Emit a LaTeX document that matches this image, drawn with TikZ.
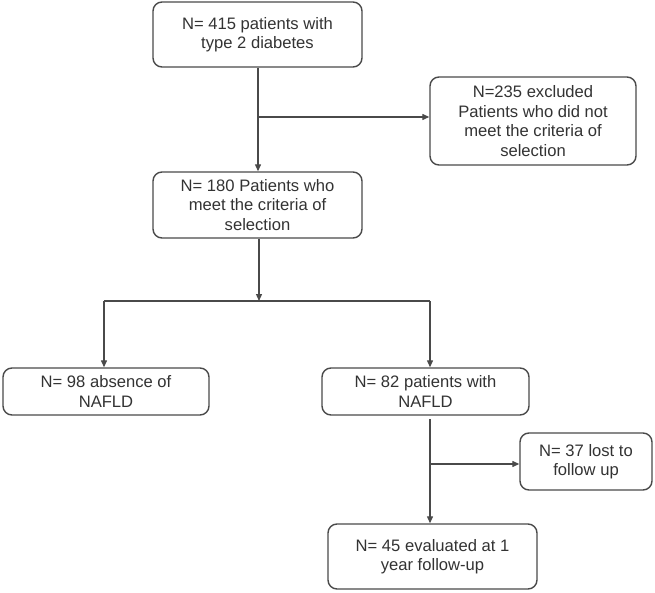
\documentclass[tikz,border=0pt]{standalone}
\usepackage{fontspec}
\setmainfont{Liberation Sans}
\usetikzlibrary{arrows.meta}
\definecolor{boxline}{HTML}{4A4A4A}
\definecolor{txt}{HTML}{333333}
\begin{document}
\begin{tikzpicture}[x=1pt,y=-1pt,
  box/.style={draw=boxline,line width=1.4pt,rounded corners=9pt,fill=white,
    inner sep=0pt,align=center,text=txt,
    font=\fontsize{16.6}{19.5}\selectfont},
  arr/.style={draw=boxline,line width=1.3pt,-{Triangle[length=7pt,width=6pt]}},
  ln/.style={draw=boxline,line width=1.3pt}]
\useasboundingbox (0,0) rectangle (655,593);
\fill[white] (0,0) rectangle (655,593);

\node[box,minimum width=209pt,minimum height=65pt] (b1) at (257.5,34.5)
  {N= 415 patients with\\type 2 diabetes};
\node[box,minimum width=206pt,minimum height=88pt] (b2) at (533,121)
  {N=235 excluded\\Patients who did not\\meet the criteria of\\selection};
\node[box,minimum width=209pt,minimum height=66pt] (b3) at (257.5,205)
  {N= 180 Patients who\\meet the criteria of\\selection};
\node[box,minimum width=206pt,minimum height=47pt] (b4) at (106,391.5)
  {N= 98 absence of\\NAFLD};
\node[box,minimum width=207pt,minimum height=47pt] (b5) at (425.5,391.5)
  {N= 82 patients with\\NAFLD};
\node[box,minimum width=132pt,minimum height=57pt] (b6) at (586,461.5)
  {N= 37 lost to\\follow up};
\node[box,minimum width=209pt,minimum height=65pt] (b7) at (432.5,556.5)
  {N= 45 evaluated at 1\\year follow-up};

\coordinate (j1) at (258,117);
\coordinate (j2) at (259,301);
\coordinate (a4) at (104,301);
\coordinate (a5) at (430,301);
\coordinate (s5) at (430,419);
\coordinate (j3) at (431,464);

\draw[arr] (b1.south -| j1) -- (j1 |- b3.north);
\draw[arr] (j1) -- (j1 -| b2.west);
\draw[arr] (b3.south -| j2) -- (j2);
\draw[ln] (a4) -- (a5);
\draw[arr] (a4) -- (a4 |- b4.north);
\draw[arr] (a5) -- (a5 |- b5.north);
\draw[arr] (s5) -- (s5 |- b7.north);
\draw[arr] (j3) -- (j3 -| b6.west);
\end{tikzpicture}
\end{document}
